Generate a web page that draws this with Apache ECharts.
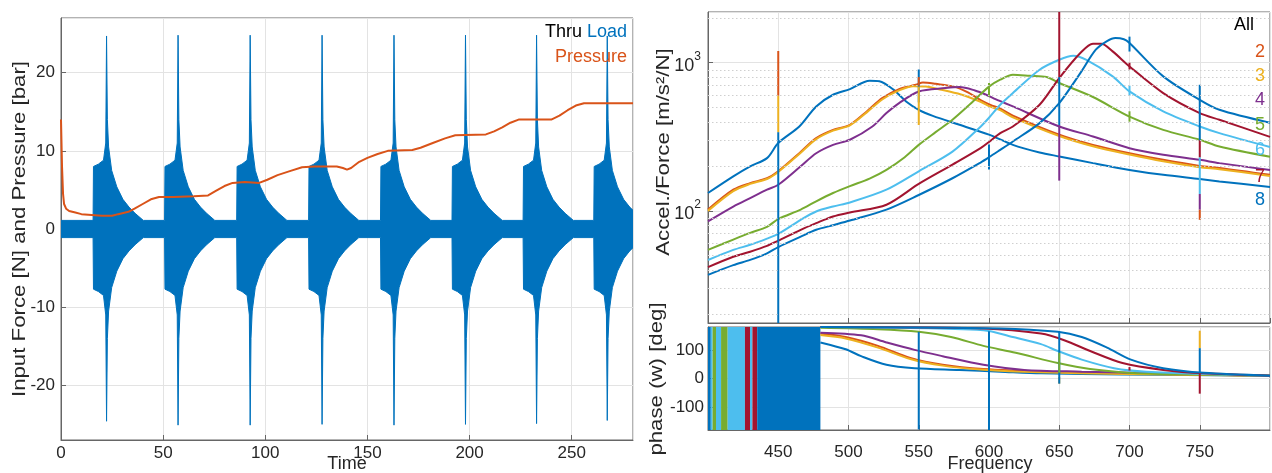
<!DOCTYPE html>
<html><head><meta charset="utf-8">
<script src="https://cdn.jsdelivr.net/npm/echarts@6.0.0/dist/echarts.min.js"></script>
<style>html,body{margin:0;padding:0;background:#fff}#c{width:1272px;height:473px}</style>
</head><body><div id="c"></div><script>
// ---------- LEFT: time history ----------
const forceUpper = [[0,1.1],
[15.7,1.1],[15.9,8.0],[18.3,8.3],[20.8,8.8],[21.9,11],[22.3,24.7],[22.7,14],[23.3,10.5],[24.8,7.5],[27.3,5.4],[30.3,3.8],[33.3,2.8],[36.3,2.0],[40.3,1.1],
[50.7,1.1],[50.9,8.0],[53.3,8.3],[55.8,8.8],[56.9,11],[57.3,24.8],[57.7,14],[58.3,10.5],[59.8,7.5],[62.3,5.4],[65.3,3.8],[68.3,2.8],[71.3,2.0],[75.3,1.1],
[86.0,1.1],[86.2,8.0],[88.6,8.3],[91.1,8.8],[92.2,11],[92.6,24.8],[93.0,14],[93.6,10.5],[95.1,7.5],[97.6,5.4],[100.6,3.8],[103.6,2.8],[106.6,2.0],[110.6,1.1],
[121.2,1.1],[121.4,8.0],[123.8,8.3],[126.3,8.8],[127.4,11],[127.8,24.8],[128.2,14],[128.8,10.5],[130.3,7.5],[132.8,5.4],[135.8,3.8],[138.8,2.8],[141.8,2.0],[145.8,1.1],
[156.4,1.1],[156.6,8.0],[159.0,8.3],[161.5,8.8],[162.6,11],[163.0,24.8],[163.4,14],[164.0,10.5],[165.5,7.5],[168.0,5.4],[171.0,3.8],[174.0,2.8],[177.0,2.0],[181.0,1.1],
[191.4,1.1],[191.6,8.0],[194.0,8.3],[196.5,8.8],[197.6,11],[198.0,24.8],[198.4,14],[199.0,10.5],[200.5,7.5],[203.0,5.4],[206.0,3.8],[209.0,2.8],[212.0,2.0],[216.0,1.1],
[226.2,1.1],[226.4,8.0],[228.8,8.3],[231.3,8.8],[232.4,11],[232.8,24.8],[233.2,14],[233.8,10.5],[235.3,7.5],[237.8,5.4],[240.8,3.8],[243.8,2.8],[246.8,2.0],[250.8,1.1],
[260.8,1.1],[261.0,8.0],[263.4,8.3],[265.9,8.8],[267.0,11],[267.4,24.7],[267.8,14],[268.4,10.5],[269.9,7.5],[272.4,5.4],[275.4,3.8],[278.4,2.8],[280,2.4]];
const forceLower = [[0,-1.1],
[15.7,-1.1],[15.9,-7.7],[18.3,-8.0],[20.8,-8.5],[21.9,-11],[22.3,-24.6],[22.7,-14],[23.3,-10.5],[24.8,-7.5],[27.3,-5.4],[30.3,-3.8],[33.3,-2.8],[36.3,-2.0],[40.3,-1.1],
[50.7,-1.1],[50.9,-7.7],[53.3,-8.0],[55.8,-8.5],[56.9,-11],[57.3,-25.1],[57.7,-14],[58.3,-10.5],[59.8,-7.5],[62.3,-5.4],[65.3,-3.8],[68.3,-2.8],[71.3,-2.0],[75.3,-1.1],
[86.0,-1.1],[86.2,-7.7],[88.6,-8.0],[91.1,-8.5],[92.2,-11],[92.6,-25.1],[93.0,-14],[93.6,-10.5],[95.1,-7.5],[97.6,-5.4],[100.6,-3.8],[103.6,-2.8],[106.6,-2.0],[110.6,-1.1],
[121.2,-1.1],[121.4,-7.7],[123.8,-8.0],[126.3,-8.5],[127.4,-11],[127.8,-25.0],[128.2,-14],[128.8,-10.5],[130.3,-7.5],[132.8,-5.4],[135.8,-3.8],[138.8,-2.8],[141.8,-2.0],[145.8,-1.1],
[156.4,-1.1],[156.6,-7.7],[159.0,-8.0],[161.5,-8.5],[162.6,-11],[163.0,-25.1],[163.4,-14],[164.0,-10.5],[165.5,-7.5],[168.0,-5.4],[171.0,-3.8],[174.0,-2.8],[177.0,-2.0],[181.0,-1.1],
[191.4,-1.1],[191.6,-7.7],[194.0,-8.0],[196.5,-8.5],[197.6,-11],[198.0,-25.0],[198.4,-14],[199.0,-10.5],[200.5,-7.5],[203.0,-5.4],[206.0,-3.8],[209.0,-2.8],[212.0,-2.0],[216.0,-1.1],
[226.2,-1.1],[226.4,-7.7],[228.8,-8.0],[231.3,-8.5],[232.4,-11],[232.8,-24.9],[233.2,-14],[233.8,-10.5],[235.3,-7.5],[237.8,-5.4],[240.8,-3.8],[243.8,-2.8],[246.8,-2.0],[250.8,-1.1],
[260.8,-1.1],[261.0,-7.7],[263.4,-8.0],[265.9,-8.5],[267.0,-11],[267.4,-24.5],[267.8,-14],[268.4,-10.5],[269.9,-7.5],[272.4,-5.4],[275.4,-3.8],[278.4,-2.8],[280,-2.4]];
const pressure = [[0,14],[0.5,8],[1,4.5],[1.5,3.2],[2.5,2.6],[4,2.3],[7,2.1],[10,1.9],[15,1.8],[20,1.7],[25,1.7],[28,1.9],[33,2.2],[36,2.6],[40,3.2],[44,3.8],[48,4.1],[55,4.1],[65,4.2],[72,4.3],[76,4.9],[80,5.5],[84,5.9],[90,6],[97,5.9],[101,6.3],[106,6.9],[112,7.4],[118,7.9],[124,8.0],[135,8.0],[138,7.8],[140,7.6],[142,7.8],[146,8.6],[150,9.1],[155,9.6],[160,10],[172,10.1],[176,10.4],[182,11],[188,11.6],[193,12],[208,12.1],[212,12.5],[216,13],[220,13.6],[224,14],[240,14],[244,14.5],[248,15.2],[252,15.8],[256,16.1],[280,16.1]];

// ---------- RIGHT: FRF magnitude (f [Hz], |A/F|) ----------
const magAll = [[400,132],[418,171],[430,200],[442,227],[450,287],[465,371],[477,507],[489,608],[501,664],[515,756],[522,750],[532,658],[541,548],[550,481],[560,438],[579,381],[600,327],[617,279],[636,248],[650,233],[674,210],[700,189],[724,175],[750,164],[764,158],[800,145]];
const mag2 = [[400,102],[418,139],[430,154],[442,166],[450,185],[465,245],[477,310],[489,352],[501,381],[513,469],[524,577],[536,664],[548,710],[553,735],[562,720],[575,690],[585,630],[594,560],[601,520],[608,490],[617,440],[650,327],[674,279],[700,245],[724,221],[750,201],[764,195],[800,175]];
const mag3 = [[400,100],[418,136],[430,152],[442,164],[450,183],[465,242],[477,305],[489,348],[501,378],[513,462],[524,565],[536,650],[546,695],[555,690],[565,660],[580,610],[594,545],[601,505],[608,478],[617,428],[650,320],[674,273],[700,240],[724,216],[750,197],[764,191],[800,172]];
const mag4 = [[400,85],[418,107],[430,122],[442,139],[450,150],[466,200],[477,245],[489,279],[501,302],[517,371],[527,457],[536,534],[550,640],[569,674],[579,685],[590,650],[598,608],[605,565],[617,507],[650,371],[674,318],[700,265],[724,239],[750,221],[764,210],[800,189]];
const mag5 = [[400,54.5],[418,64],[430,71],[442,78],[450,88],[466,102],[477,116],[489,132],[501,147],[515,165],[527,189],[540,230],[550,279],[562,340],[574,412],[587,530],[600,690],[608,768],[617,830],[629,816],[641,800],[650,730],[674,587],[700,433],[724,352],[750,302],[764,272],[800,232]];
const mag6 = [[400,46.6],[418,54.5],[430,59],[442,65],[450,70],[466,87],[477,99],[489,107],[501,114],[527,139],[550,185],[574,251],[594,370],[600,425],[608,520],[617,624],[636,897],[650,1048],[660,1114],[669,1048],[688,809],[700,640],[724,469],[750,371],[764,335],[800,270]];
const mag7 = [[400,41.7],[418,49],[430,53],[442,58],[450,63],[466,74.5],[477,82.6],[489,91.6],[501,97.5],[527,110],[550,152],[574,205],[594,265],[600,292],[608,335],[617,371],[636,520],[650,788],[665,1162],[674,1344],[680,1344],[688,1193],[700,944],[724,624],[750,457],[764,412],[800,316]];
const mag8 = [[400,37],[418,43],[430,46.7],[442,51.7],[450,57],[466,67],[477,74.5],[489,80],[501,86],[527,102],[550,128],[574,166],[594,212],[600,230],[608,258],[617,294],[636,391],[650,534],[665,851],[676,1224],[684,1400],[690,1468],[696,1440],[700,1359],[724,809],[750,562],[764,481],[800,393]];
// glitch lines at mains harmonics: [f, low, high, curveIndex]
const magGlitches = [[450,17.5,340,7],[450,340,600,2],[450,600,1200,1],
 [550,540,900,0],[550,380,690,2],[550,700,800,1],
 [600,190,280,0],[600,590,730,4],
 [650,160,380,3],[650,380,800,7],[650,800,2200,6],
 [700,1190,1500,7],[700,900,1000,6],[700,600,700,5],[700,400,470,4],
 [750,87,102,1],[750,102,130,3],[750,130,230,5],[750,230,300,6],[750,300,710,7]];
const minorGrid = [20,30,40,50,60,70,80,90,200,300,400,500,600,700,800,900,2000];

// ---------- RIGHT: phase (deg) ----------
const ph1 = [[480,126],[498,102],[509,78],[527,48],[547,36],[579,30],[608,24],[637,18],[695,14],[800,10]];
const ph2 = [[480,157],[498,145],[521,114],[544,72],[567,48],[596,33],[637,24],[695,18],[800,10]];
const ph3 = [[480,152],[498,140],[521,108],[544,68],[567,45],[596,31],[637,22],[695,16],[800,10]];
const ph4 = [[480,160],[509,151],[527,126],[547,100],[567,78],[596,48],[625,30],[666,24],[724,18],[800,10]];
const ph5 = [[480,177],[521,172],[550,163],[573,145],[596,114],[619,90],[649,54],[672,33],[706,18],[800,10]];
const ph6 = [[480,180],[596,169],[617,145],[637,120],[649,96],[666,66],[689,36],[712,24],[800,10]];
const ph7 = [[480,180],[596,175],[637,157],[654,133],[672,96],[695,54],[724,30],[753,18],[800,10]];
const ph8 = [[480,180],[608,175],[649,163],[666,145],[684,108],[701,66],[724,36],[753,20],[800,10]];
// wrapped (noisy) band 400-480 Hz: [f1, f2, curveIndex]
const phaseStripes = [[400,402,0],[402,403.3,5],[403.3,405.7,4],[405.7,409.3,5],[409.3,414,4],[414,426.3,5],[426.3,429.9,6],[429.9,431.6,5],[431.6,435,6],[435,480,7]];
const phaseGlitches = [[550,-178,163,7],[600,-180,165,7],[650,-18,5,2],[650,-18,163,7],[650,20,90,4],[700,28,40,6],[750,106,167,2],[750,18,106,7],[750,-53,18,6]];

const curveNames = ['All','2','3','4','5','6','7','8'];
const curveColors = ['#0072BD','#D95319','#EDB120','#7E2F8E','#77AC30','#4DBEEE','#A2142F','#0072BD'];
const magData = [magAll,mag2,mag3,mag4,mag5,mag6,mag7,mag8];
const phData = [ph1,ph2,ph3,ph4,ph5,ph6,ph7,ph8];

const FONT = 'Liberation Sans, Arial, Helvetica, sans-serif';
const TXT = '#262626';
const FRAME = '#666666';
const GRIDC = '#e3e3e3';
const STRETCH = 1.17;   // vertical axis titles are longer in the reference

const chart = echarts.init(document.getElementById('c'), null, {renderer:'canvas'});
const lg = v => Math.log10(v);

function axisBase(extra){
  return Object.assign({
    type:'value',
    axisLine:{show:true,onZero:false,lineStyle:{color:FRAME,width:1}},
    axisTick:{show:true,inside:true,length:5,lineStyle:{color:FRAME}},
    axisLabel:{color:TXT,fontSize:17,fontFamily:FONT,showMinLabel:false,showMaxLabel:false},
    splitLine:{show:true,lineStyle:{color:GRIDC,width:1}}
  }, extra);
}

const series = [];
series.push({type:'line',xAxisIndex:0,yAxisIndex:0,data:forceUpper,showSymbol:false,symbol:'none',silent:true,
  lineStyle:{color:'#0072BD',width:1},areaStyle:{color:'#0072BD',opacity:1},z:2});
series.push({type:'line',xAxisIndex:0,yAxisIndex:0,data:forceLower,showSymbol:false,symbol:'none',silent:true,
  lineStyle:{color:'#0072BD',width:1},areaStyle:{color:'#0072BD',opacity:1},z:2});
series.push({type:'line',xAxisIndex:0,yAxisIndex:0,data:pressure,showSymbol:false,symbol:'none',silent:true,
  lineStyle:{color:'#D95319',width:2},z:3});

// minor dotted grid for magnitude (log decades)
series.push({type:'line',xAxisIndex:1,yAxisIndex:1,data:[],silent:true,z:1,
  markLine:{silent:true,symbol:'none',animation:false,label:{show:false},
    lineStyle:{color:'#cfcfcf',type:[1.5,2.5],width:1},
    data:minorGrid.map(v=>({yAxis:lg(v)}))}});
magData.forEach((d,i)=>{
  series.push({type:'line',name:curveNames[i],xAxisIndex:1,yAxisIndex:1,data:d.map(p=>[p[0],lg(p[1])]),
    showSymbol:false,symbol:'none',smooth:0.3,silent:true,lineStyle:{color:curveColors[i],width:2},z:3+i*0.01});
});
magGlitches.forEach(g=>{
  series.push({type:'line',xAxisIndex:1,yAxisIndex:1,data:[[g[0],lg(g[1])],[g[0],lg(g[2])]],
    showSymbol:false,symbol:'none',silent:true,lineStyle:{color:curveColors[g[3]],width:2},z:4});
});

// phase
series.push({type:'line',xAxisIndex:2,yAxisIndex:2,data:[],silent:true,z:2,
  markArea:{silent:true,animation:false,
    data:phaseStripes.map(s=>[{xAxis:s[0],yAxis:-180,itemStyle:{color:curveColors[s[2]],opacity:1}},{xAxis:s[1],yAxis:180}])}});
phData.forEach((d,i)=>{
  series.push({type:'line',xAxisIndex:2,yAxisIndex:2,data:d,showSymbol:false,symbol:'none',smooth:0.3,silent:true,
    lineStyle:{color:curveColors[i],width:2},z:3+i*0.01});
});
phaseGlitches.forEach(g=>{
  series.push({type:'line',xAxisIndex:2,yAxisIndex:2,data:[[g[0],g[1]],[g[0],g[2]]],
    showSymbol:false,symbol:'none',silent:true,lineStyle:{color:curveColors[g[3]],width:2},z:4});
});

function gtext(text,x,y,opt){
  opt = opt||{};
  const el = {type:'text',x:x,y:y,silent:true,z:100,
    style:Object.assign({text:text,fill:TXT,font:(opt.size||18)+'px '+FONT,align:'center',verticalAlign:'middle'},opt.style||{})};
  if(opt.rotation!==undefined){ el.rotation=opt.rotation; el.scaleX=STRETCH; }
  return el;
}

const legendRight = curveNames.map((n,i)=>gtext(n, i===0?1254:1265, [25,52,76,100,125,150,177,200][i],
  {size:18,style:{fill:i===0?'#000':curveColors[i],align:'right'}}));

chart.setOption({
  animation:false,
  backgroundColor:'#fff',
  grid:[
    {left:61,top:18,width:572,height:422,show:true,borderColor:FRAME,borderWidth:1,backgroundColor:'#fff'},
    {left:708,top:12,width:562,height:311,show:true,borderColor:FRAME,borderWidth:1,backgroundColor:'#fff'},
    {left:708,top:327,width:562,height:103,show:true,borderColor:FRAME,borderWidth:1,backgroundColor:'#fff'}
  ],
  xAxis:[
    axisBase({gridIndex:0,min:0,max:280,interval:50,axisLabel:{color:TXT,fontSize:17,fontFamily:FONT,margin:5,showMaxLabel:false}}),
    axisBase({gridIndex:1,min:400,max:800,interval:50,axisLabel:{show:false}}),
    axisBase({gridIndex:2,min:400,max:800,interval:50,axisLabel:{color:TXT,fontSize:17,fontFamily:FONT,margin:14,showMinLabel:false,showMaxLabel:false}})
  ],
  yAxis:[
    axisBase({gridIndex:0,min:-27,max:27,splitNumber:5,axisLabel:{color:TXT,fontSize:17,fontFamily:FONT,margin:6,showMinLabel:false,showMaxLabel:false}}),
    axisBase({gridIndex:1,min:lg(17.5),max:lg(2200),splitNumber:2,
      axisLabel:{showMinLabel:false,showMaxLabel:false,margin:7,
        formatter:v=>'{b|10}{s|'+Math.round(v)+'}',
        rich:{b:{fontSize:18,color:TXT,fontFamily:FONT,lineHeight:24,verticalAlign:'bottom'},
              s:{fontSize:12,color:TXT,fontFamily:FONT,verticalAlign:'top'}}}}),
    axisBase({gridIndex:2,min:-180,max:180,splitNumber:4,axisLabel:{color:TXT,fontSize:17,fontFamily:FONT,margin:4,showMinLabel:false,showMaxLabel:false}})
  ],
  series:series,
  graphic:[
    gtext('Input Force [N] and Pressure [bar]',20,229,{size:19,rotation:Math.PI/2}),
    gtext('Time',347,464),
    gtext('Accel./Force [m/s\u00B2/N]',664,152,{size:19,rotation:Math.PI/2}),
    gtext('phase (w) [deg]',657,379,{size:19,rotation:Math.PI/2}),
    gtext('Frequency',990,464),
    gtext('Load',627,32,{style:{fill:'#0072BD',align:'right'}}),
    gtext('Thru',582,32,{style:{fill:'#000',align:'right'}}),
    gtext('Pressure',627,57,{style:{fill:'#D95319',align:'right'}})
  ].concat(legendRight)
});
</script></body></html>
